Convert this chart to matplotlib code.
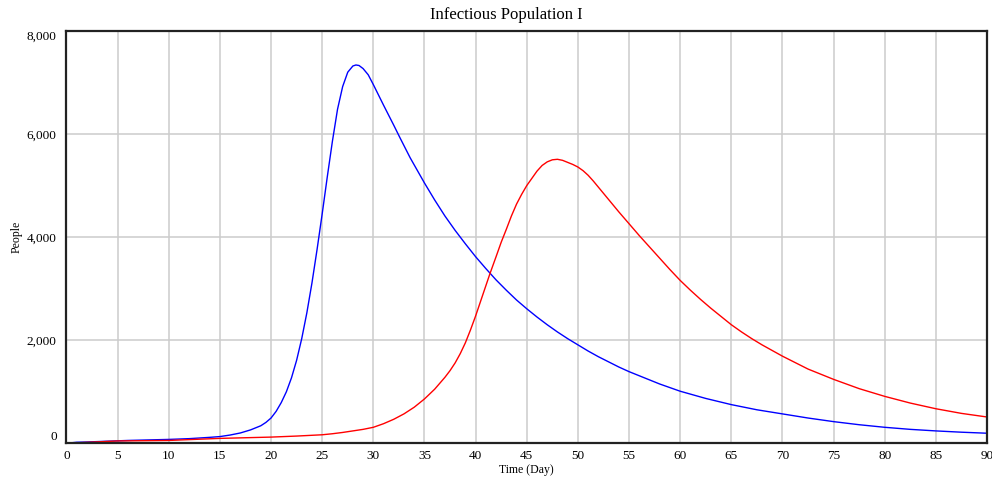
import matplotlib.pyplot as plt

# blue run (earlier peak)
blue_days = [0, 1, 2, 4, 6, 8, 10, 12, 14, 15, 16, 17, 18, 19, 19.5, 20, 20.5, 21, 21.5,
             22, 22.5, 23, 23.5, 24, 24.5, 25, 25.5, 26, 26.5, 27, 27.5, 28.0, 28.3, 28.6,
             29.0, 29.5, 30, 31, 32, 32.6, 33.6, 35, 36, 37, 38, 39, 40, 41, 42, 43, 44,
             45, 46, 47, 48, 49, 50, 51, 52, 53, 54, 55, 56, 57, 58, 59, 60, 62.5, 65,
             67.5, 70, 72.5, 75, 77.5, 80, 82.5, 85, 87.5, 90]
blue_people = [0, 20, 25, 40, 55, 65, 75, 90, 115, 130, 160, 200, 260, 340, 405, 490, 620,
               790, 1000, 1270, 1610, 2030, 2530, 3110, 3760, 4450, 5170, 5860, 6480, 6920,
               7200, 7320, 7340, 7330, 7270, 7150, 6960, 6560, 6170, 5930, 5540, 5050,
               4720, 4410, 4130, 3870, 3620, 3390, 3170, 2970, 2780, 2610, 2450, 2300,
               2160, 2030, 1910, 1790, 1680, 1580, 1480, 1390, 1310, 1230, 1150, 1080,
               1010, 870, 750, 650, 570, 490, 420, 360, 310, 270, 240, 215, 195]

# red run (later, lower peak)
red_days = [0, 5, 10, 15, 20, 22.5, 25, 26, 27, 28, 29, 30, 31, 32, 33, 34, 35, 36, 37,
            37.5, 38, 38.5, 39, 39.5, 40, 40.7, 41.4, 42, 42.5, 43, 43.5, 44, 44.5, 45,
            46, 46.5, 47, 47.5, 48, 48.5, 49, 49.5, 50, 50.5, 51, 51.5, 52, 53, 54, 55,
            56, 57, 58, 59, 60, 61, 62, 63, 64, 65, 66, 67, 68, 69, 70, 72.5, 75, 77.5,
            80, 82.5, 85, 87.5, 90]
red_people = [0, 45, 55, 95, 120, 140, 165, 185, 210, 240, 270, 310, 380, 466, 571, 700,
              860, 1050, 1280, 1410, 1560, 1740, 1950, 2200, 2470, 2880, 3290, 3620, 3900,
              4150, 4410, 4640, 4830, 5000, 5280, 5390, 5460, 5500, 5510, 5490, 5450,
              5410, 5360, 5290, 5200, 5090, 4970, 4730, 4490, 4260, 4030, 3810, 3590,
              3370, 3160, 2970, 2790, 2620, 2460, 2300, 2160, 2030, 1910, 1800, 1690,
              1440, 1240, 1060, 910, 780, 670, 580, 510]

plt.rcParams['font.family'] = ['Liberation Serif', 'DejaVu Serif']

fig = plt.figure(figsize=(9.92, 4.8), dpi=100)
ax = fig.add_axes([0.067, 0.0765, 0.928, 0.859])

ax.plot(blue_days, blue_people, color='#0000ff', lw=1.0)
ax.plot(red_days, red_people, color='#ff0000', lw=1.0)

ax.set_xlim(0, 90)
ax.set_ylim(0, 8000)
ax.set_xticks(range(0, 91, 5))
ax.set_yticks([0, 2000, 4000, 6000, 8000])
ax.set_yticklabels(['0', '2,000', '4,000', '6,000', '8,000'])
ax.grid(True, color='#cccccc', lw=1.1)
ax.set_axisbelow(True)
ax.tick_params(length=0, labelsize=9.5)
ax.tick_params(axis='y', pad=7)
ax.tick_params(axis='x', pad=5)

# end labels sit inside the range, like the original
ylabs = ax.get_yticklabels()
ylabs[0].set_va('bottom')
ylabs[-1].set_va('top')

for s in ax.spines.values():
    s.set_linewidth(1.6)
    s.set_color('#222222')

ax.set_xlabel('Time (Day)', fontsize=8.5, labelpad=1)
ax.set_ylabel('People', fontsize=8.5, labelpad=3)
fig.suptitle('Infectious Population I', fontsize=12, x=0.51, y=0.985)

fig.savefig('out.png', dpi=100)
